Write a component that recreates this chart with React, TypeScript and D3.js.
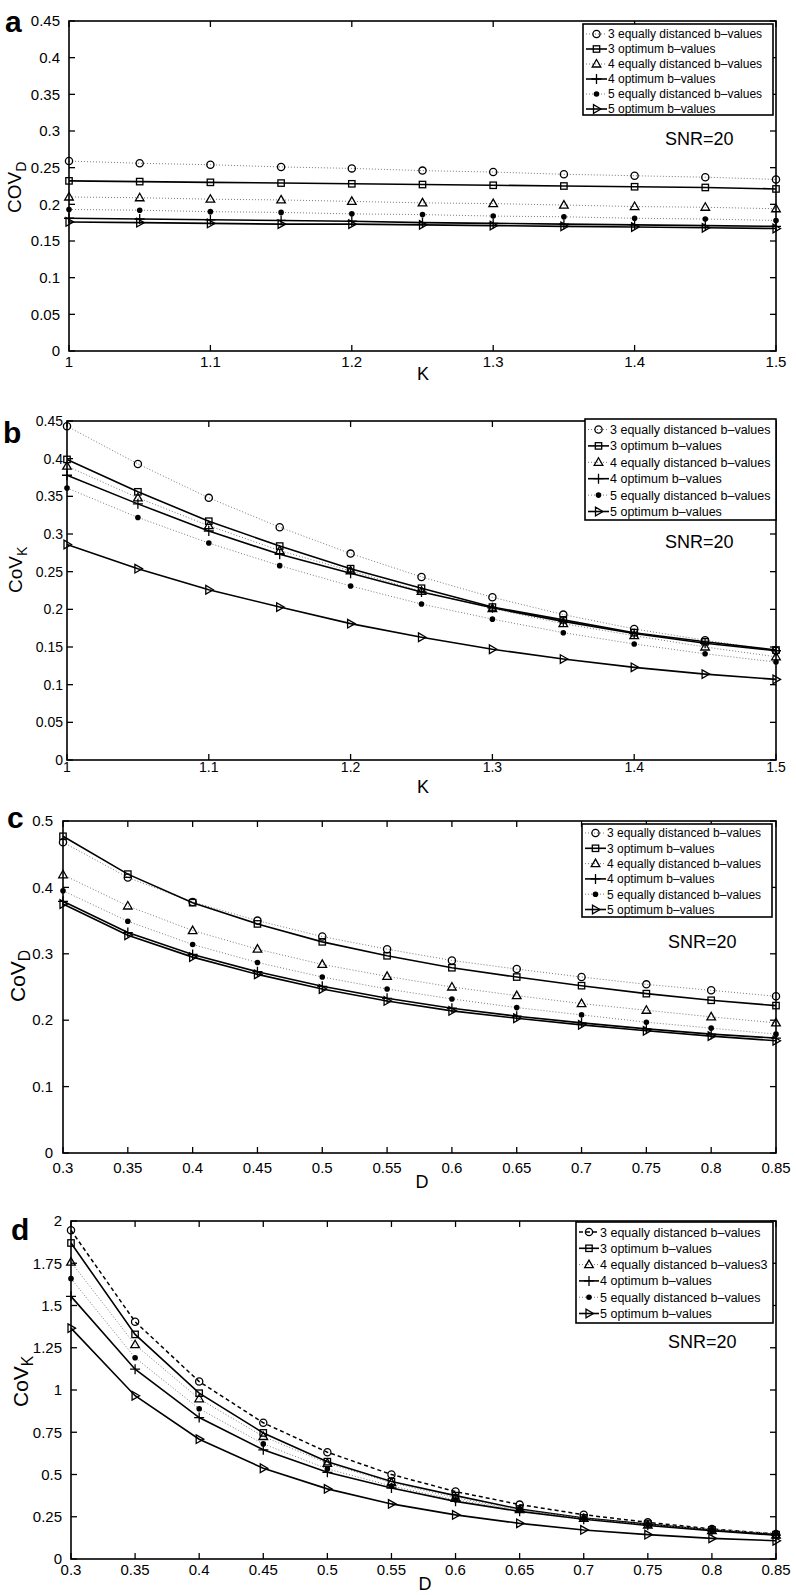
import React from 'react';
import * as d3 from 'd3';

// ---------- data ----------
const kValues = [1, 1.05, 1.1, 1.15, 1.2, 1.25, 1.3, 1.35, 1.4, 1.45, 1.5];
const dValues = [0.3, 0.35, 0.4, 0.45, 0.5, 0.55, 0.6, 0.65, 0.7, 0.75, 0.8, 0.85];
const kTicks = [1, 1.1, 1.2, 1.3, 1.4, 1.5];
const dTicks = [0.3, 0.35, 0.4, 0.45, 0.5, 0.55, 0.6, 0.65, 0.7, 0.75, 0.8, 0.85];
const yTicksAB = [0, 0.05, 0.1, 0.15, 0.2, 0.25, 0.3, 0.35, 0.4, 0.45];
const yTicksC = [0, 0.1, 0.2, 0.3, 0.4, 0.5];
const yTicksD = [0, 0.25, 0.5, 0.75, 1, 1.25, 1.5, 1.75, 2];

const seriesNames = [
  '3 equally distanced b\u2013values',
  '3 optimum b\u2013values',
  '4 equally distanced b\u2013values',
  '4 optimum b\u2013values',
  '5 equally distanced b\u2013values',
  '5 optimum b\u2013values',
];
const seriesNamesD = [
  '3 equally distanced b\u2013values',
  '3 optimum b\u2013values',
  '4 equally distanced b\u2013values3',
  '4 optimum b\u2013values',
  '5 equally distanced b\u2013values',
  '5 optimum b\u2013values',
];

// panel a: CoV_D vs K
const aEq3 = [0.259, 0.256, 0.254, 0.251, 0.249, 0.246, 0.244, 0.241, 0.239, 0.237, 0.234];
const aOpt3 = [0.232, 0.231, 0.230, 0.229, 0.228, 0.227, 0.226, 0.225, 0.224, 0.223, 0.221];
const aEq4 = [0.210, 0.209, 0.207, 0.206, 0.204, 0.202, 0.201, 0.199, 0.197, 0.196, 0.194];
const aOpt4 = [0.181, 0.180, 0.179, 0.178, 0.177, 0.175, 0.174, 0.173, 0.172, 0.171, 0.170];
const aEq5 = [0.193, 0.192, 0.190, 0.189, 0.187, 0.186, 0.184, 0.183, 0.181, 0.180, 0.178];
const aOpt5 = [0.176, 0.175, 0.174, 0.173, 0.173, 0.172, 0.171, 0.170, 0.169, 0.168, 0.167];

// panel b: CoV_K vs K
const bEq3 = [0.443, 0.393, 0.348, 0.309, 0.274, 0.243, 0.216, 0.193, 0.174, 0.159, 0.145];
const bOpt3 = [0.399, 0.356, 0.317, 0.284, 0.254, 0.228, 0.203, 0.186, 0.169, 0.157, 0.146];
const bEq4 = [0.390, 0.348, 0.311, 0.278, 0.251, 0.224, 0.201, 0.181, 0.165, 0.150, 0.137];
const bOpt4 = [0.378, 0.340, 0.304, 0.273, 0.248, 0.223, 0.202, 0.184, 0.168, 0.155, 0.145];
const bEq5 = [0.361, 0.322, 0.288, 0.258, 0.231, 0.207, 0.187, 0.169, 0.154, 0.141, 0.130];
const bOpt5 = [0.286, 0.254, 0.226, 0.203, 0.181, 0.163, 0.147, 0.134, 0.123, 0.114, 0.107];

// panel c: CoV_D vs D
const cEq3 = [0.468, 0.415, 0.378, 0.350, 0.326, 0.307, 0.290, 0.277, 0.265, 0.254, 0.245, 0.236];
const cOpt3 = [0.477, 0.420, 0.377, 0.345, 0.318, 0.297, 0.279, 0.265, 0.252, 0.240, 0.230, 0.222];
const cEq4 = [0.419, 0.372, 0.335, 0.307, 0.284, 0.266, 0.250, 0.237, 0.225, 0.215, 0.205, 0.196];
const cOpt4 = [0.379, 0.332, 0.299, 0.273, 0.251, 0.233, 0.218, 0.206, 0.196, 0.187, 0.179, 0.173];
const cEq5 = [0.395, 0.349, 0.314, 0.287, 0.265, 0.247, 0.232, 0.219, 0.208, 0.197, 0.188, 0.179];
const cOpt5 = [0.375, 0.328, 0.295, 0.269, 0.247, 0.229, 0.214, 0.203, 0.193, 0.184, 0.176, 0.169];

// panel d: CoV_K vs D
const dEq3 = [1.945, 1.404, 1.050, 0.806, 0.632, 0.500, 0.399, 0.322, 0.262, 0.217, 0.178, 0.148];
const dOpt3 = [1.870, 1.329, 0.981, 0.746, 0.576, 0.458, 0.375, 0.296, 0.243, 0.207, 0.172, 0.144];
const dEq4 = [1.757, 1.268, 0.948, 0.725, 0.566, 0.452, 0.362, 0.292, 0.240, 0.200, 0.168, 0.142];
const dOpt4 = [1.554, 1.123, 0.837, 0.646, 0.513, 0.420, 0.341, 0.282, 0.235, 0.199, 0.167, 0.141];
const dEq5 = [1.659, 1.191, 0.889, 0.681, 0.533, 0.432, 0.350, 0.290, 0.240, 0.204, 0.175, 0.152];
const dOpt5 = [1.366, 0.966, 0.709, 0.537, 0.415, 0.326, 0.261, 0.211, 0.172, 0.144, 0.122, 0.108];

const markerKinds = ['circle', 'square', 'triangle', 'plus', 'dot', 'tright'];

// ---------- styles / layout ----------
const FONT = 'Liberation Sans, Arial, Helvetica, sans-serif';
const GRAY = '#7a7a7a';

type Panel = {
  letter: string; letterX: number; letterY: number;
  x: number[]; xTicks: number[]; xDomain: [number, number];
  yTicks: number[]; yDomain: [number, number];
  series: number[][]; names: string[];
  left: number; right: number; top: number; bottom: number;
  yLabelMain: string; yLabelSub: string; yLabelX: number; yLabelY: number; yLabelSize: number;
  xLabel: string; xLabelX: number; xLabelY: number;
  tickFont: number; yTickRight: number; xTickBase: number;
  leg: { x0: number; x1: number; y0: number; y1: number; row0: number; step: number; textX: number; font: number };
  snrX: number; snrY: number;
  dashedFirst: boolean;
};

const panels: Panel[] = [
  {
    letter: 'a', letterX: 5, letterY: 32,
    x: kValues, xTicks: kTicks, xDomain: [1, 1.5], yTicks: yTicksAB, yDomain: [0, 0.45],
    series: [aEq3, aOpt3, aEq4, aOpt4, aEq5, aOpt5], names: seriesNames,
    left: 69, right: 776, top: 21, bottom: 351,
    yLabelMain: 'COV', yLabelSub: 'D', yLabelX: 21, yLabelY: 213, yLabelSize: 19,
    xLabel: 'K', xLabelX: 423, xLabelY: 380,
    tickFont: 15, yTickRight: 60, xTickBase: 367,
    leg: { x0: 583, x1: 773, y0: 24, y1: 115, row0: 34, step: 15, textX: 608, font: 12 },
    snrX: 665, snrY: 145, dashedFirst: false,
  },
  {
    letter: 'b', letterX: 3, letterY: 443,
    x: kValues, xTicks: kTicks, xDomain: [1, 1.5], yTicks: yTicksAB, yDomain: [0, 0.45],
    series: [bEq3, bOpt3, bEq4, bOpt4, bEq5, bOpt5], names: seriesNames,
    left: 67, right: 776, top: 421, bottom: 760,
    yLabelMain: 'CoV', yLabelSub: 'K', yLabelX: 22, yLabelY: 593, yLabelSize: 19,
    xLabel: 'K', xLabelX: 423, xLabelY: 793,
    tickFont: 14, yTickRight: 63, xTickBase: 772,
    leg: { x0: 585, x1: 776, y0: 419, y1: 520, row0: 429.5, step: 16.4, textX: 610, font: 12.5 },
    snrX: 665, snrY: 548, dashedFirst: false,
  },
  {
    letter: 'c', letterX: 7, letterY: 828,
    x: dValues, xTicks: dTicks, xDomain: [0.3, 0.85], yTicks: yTicksC, yDomain: [0, 0.5],
    series: [cEq3, cOpt3, cEq4, cOpt4, cEq5, cOpt5], names: seriesNames,
    left: 63, right: 776, top: 821, bottom: 1153,
    yLabelMain: 'CoV', yLabelSub: 'D', yLabelX: 25, yLabelY: 1002, yLabelSize: 21,
    xLabel: 'D', xLabelX: 422, xLabelY: 1188,
    tickFont: 15, yTickRight: 53, xTickBase: 1173,
    leg: { x0: 582, x1: 772, y0: 824, y1: 917, row0: 833, step: 15.3, textX: 607, font: 12 },
    snrX: 668, snrY: 948, dashedFirst: false,
  },
  {
    letter: 'd', letterX: 11, letterY: 1240,
    x: dValues, xTicks: dTicks, xDomain: [0.3, 0.85], yTicks: yTicksD, yDomain: [0, 2],
    series: [dEq3, dOpt3, dEq4, dOpt4, dEq5, dOpt5], names: seriesNamesD,
    left: 71, right: 776, top: 1221, bottom: 1559,
    yLabelMain: 'CoV', yLabelSub: 'K', yLabelX: 28, yLabelY: 1407, yLabelSize: 21,
    xLabel: 'D', xLabelX: 425, xLabelY: 1590,
    tickFont: 15, yTickRight: 62, xTickBase: 1575,
    leg: { x0: 576, x1: 773, y0: 1222, y1: 1323, row0: 1232, step: 16.3, textX: 600, font: 12.5 },
    snrX: 668, snrY: 1348, dashedFirst: true,
  },
];

function Marker({ kind, x, y }: { kind: string; x: number; y: number }) {
  const sw = 1.3;
  if (kind === 'circle') return <circle cx={x} cy={y} r={3.6} fill="none" stroke="#000" strokeWidth={sw} />;
  if (kind === 'square') return <rect x={x - 3.2} y={y - 3.2} width={6.4} height={6.4} fill="none" stroke="#000" strokeWidth={sw} />;
  if (kind === 'triangle') return <path d={`M${x},${y - 4.5}L${x + 4.3},${y + 3}L${x - 4.3},${y + 3}Z`} fill="none" stroke="#000" strokeWidth={sw} />;
  if (kind === 'plus') return <path d={`M${x - 5},${y}H${x + 5}M${x},${y - 5}V${y + 5}`} fill="none" stroke="#000" strokeWidth={sw} />;
  if (kind === 'dot') return <circle cx={x} cy={y} r={2.8} fill="#000" />;
  return <path d={`M${x + 4.5},${y}L${x - 3},${y - 4.3}L${x - 3},${y + 4.3}Z`} fill="none" stroke="#000" strokeWidth={sw} />;
}

function lineStyle(i: number, dashedFirst: boolean) {
  const optimum = i % 2 === 1;
  if (optimum) return { stroke: '#000', strokeWidth: 1.6, dash: undefined as string | undefined };
  if (i === 0 && dashedFirst) return { stroke: '#000', strokeWidth: 1.5, dash: '4,3' };
  return { stroke: GRAY, strokeWidth: 1, dash: '1,2' };
}

function PanelView({ p }: { p: Panel }) {
  const xs = d3.scaleLinear().domain(p.xDomain).range([p.left, p.right]);
  const ys = d3.scaleLinear().domain(p.yDomain).range([p.bottom, p.top]);
  const line = d3.line<number>().x((_, i) => xs(p.x[i])).y((v) => ys(v));
  const tl = 6;
  return (
    <g>
      <text x={p.letterX} y={p.letterY} fontFamily={FONT} fontWeight="bold" fontSize={30}>{p.letter}</text>
      {/* series lines */}
      {p.series.map((s, i) => {
        const st = lineStyle(i, p.dashedFirst);
        return <path key={'l' + i} d={line(s) || ''} fill="none" stroke={st.stroke} strokeWidth={st.strokeWidth} strokeDasharray={st.dash} />;
      })}
      {/* markers */}
      {p.series.map((s, i) => (
        <g key={'m' + i}>
          {s.map((v, j) => <Marker key={j} kind={markerKinds[i]} x={xs(p.x[j])} y={ys(v)} />)}
        </g>
      ))}
      {/* axes box */}
      <rect x={p.left} y={p.top} width={p.right - p.left} height={p.bottom - p.top} fill="none" stroke="#000" strokeWidth={1.6} />
      {p.xTicks.map((t) => (
        <g key={'xt' + t}>
          <line x1={xs(t)} x2={xs(t)} y1={p.bottom} y2={p.bottom - tl} stroke="#000" strokeWidth={1.3} />
          <line x1={xs(t)} x2={xs(t)} y1={p.top} y2={p.top + tl} stroke="#000" strokeWidth={1.3} />
          <text x={xs(t)} y={p.xTickBase} textAnchor="middle" fontFamily={FONT} fontSize={p.tickFont}>{String(t)}</text>
        </g>
      ))}
      {p.yTicks.map((t) => (
        <g key={'yt' + t}>
          <line x1={p.left} x2={p.left + tl} y1={ys(t)} y2={ys(t)} stroke="#000" strokeWidth={1.3} />
          <line x1={p.right} x2={p.right - tl} y1={ys(t)} y2={ys(t)} stroke="#000" strokeWidth={1.3} />
          <text x={p.yTickRight} y={ys(t)} dy="0.35em" textAnchor="end" fontFamily={FONT} fontSize={p.tickFont}>{String(t)}</text>
        </g>
      ))}
      {/* axis labels */}
      <text x={p.xLabelX} y={p.xLabelY} textAnchor="middle" fontFamily={FONT} fontSize={18}>{p.xLabel}</text>
      <text transform={`translate(${p.yLabelX},${p.yLabelY}) rotate(-90)`} fontFamily={FONT} fontSize={p.yLabelSize}>
        {p.yLabelMain}
        <tspan dy={5} fontSize={p.yLabelSize * 0.75}>{p.yLabelSub}</tspan>
      </text>
      {/* legend */}
      <rect x={p.leg.x0} y={p.leg.y0} width={p.leg.x1 - p.leg.x0} height={p.leg.y1 - p.leg.y0} fill="#fff" stroke="#000" strokeWidth={1.6} />
      {p.names.map((n, i) => {
        const y = p.leg.row0 + i * p.leg.step;
        const st = lineStyle(i, p.dashedFirst);
        const lx0 = p.leg.x0 + 3;
        const lx1 = p.leg.textX - 1;
        const mx = (lx0 + lx1) / 2;
        return (
          <g key={'lg' + i}>
            <line x1={lx0} x2={lx1} y1={y} y2={y} stroke={st.stroke} strokeWidth={st.strokeWidth} strokeDasharray={st.dash} />
            <Marker kind={markerKinds[i]} x={mx} y={y} />
            <text x={p.leg.textX} y={y} dy="0.36em" fontFamily={FONT} fontSize={p.leg.font}>{n}</text>
          </g>
        );
      })}
      <text x={p.snrX} y={p.snrY} fontFamily={FONT} fontSize={18}>SNR=20</text>
    </g>
  );
}

export default function App() {
  return (
    <svg width={796} height={1595} viewBox="0 0 796 1595" style={{ position: 'absolute', left: 0, top: 0, background: '#fff' }}>
      <rect x={0} y={0} width={796} height={1595} fill="#fff" />
      {panels.map((p) => <PanelView key={p.letter} p={p} />)}
    </svg>
  );
}
